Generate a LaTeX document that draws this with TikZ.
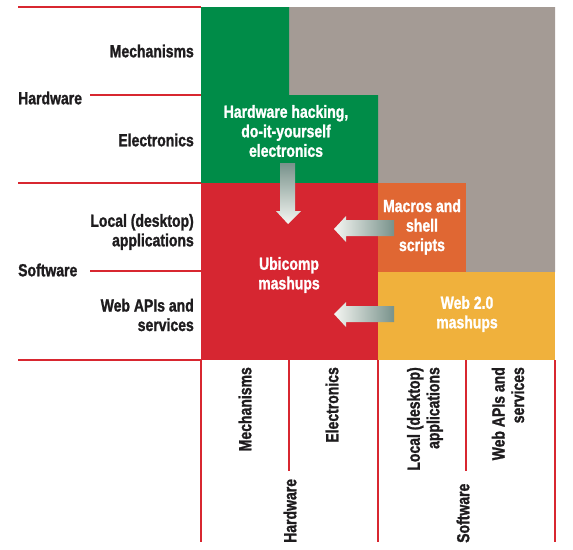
\documentclass[tikz,border=0pt]{standalone}
\usepackage{fontspec}
\newfontfamily\cf{Liberation Sans}[FakeStretch=0.8, BoldFeatures={FakeBold=1.3}]
\definecolor{cgreen}{RGB}{0,140,72}
\definecolor{cgray}{RGB}{164,155,149}
\definecolor{cred}{RGB}{214,38,49}
\definecolor{corange}{RGB}{224,103,51}
\definecolor{cyellow}{RGB}{240,177,60}
\definecolor{cline}{RGB}{216,39,48}
\definecolor{adark}{RGB}{120,146,139}
\definecolor{alight}{RGB}{245,246,242}
\definecolor{ctext}{RGB}{30,28,30}
\tikzset{
  axisline/.style={draw=cline, line width=1.6pt},
  lbl/.style={font=\cf\bfseries\fontsize{17.5}{19.5}\selectfont, text=ctext, inner sep=0pt},
  inlbl/.style={font=\cf\bfseries\fontsize{17.5}{19.5}\selectfont, text=white, inner sep=0pt, align=center},
  rlbl/.style={lbl, align=right, anchor=east},
  vlbl/.style={lbl, rotate=90, align=right, anchor=east},
  vlblb/.style={lbl, rotate=90, anchor=west},
}
\begin{document}
\begin{tikzpicture}[x=1pt,y=-1pt]
\useasboundingbox (0,0) rectangle (573,549);
% regions
\fill[cgray] (289,7) -- (555,7) -- (555,272) -- (466,272) -- (466,183) -- (378,183) -- (378,95) -- (289,95) -- cycle;
\fill[cgreen] (201,7) -- (289,7) -- (289,95) -- (378,95) -- (378,183) -- (201,183) -- cycle;
\fill[cred] (201,183) rectangle (378,360);
\fill[corange] (378,183) rectangle (466,272);
\fill[cyellow] (378,272) rectangle (555,360);
% left axis lines
\coordinate (l0) at (18,7);   \coordinate (r0) at (201,7);
\coordinate (l1) at (90,95);  \coordinate (r1) at (201,95);
\coordinate (l2) at (18,183); \coordinate (r2) at (201,183);
\coordinate (l3) at (90,271); \coordinate (r3) at (201,271);
\coordinate (l4) at (18,360); \coordinate (r4) at (201,360);
\draw[axisline] (l0) -- (r0);
\draw[axisline] (l1) -- (r1);
\draw[axisline] (l2) -- (r2);
\draw[axisline] (l3) -- (r3);
\draw[axisline] (l4) -- (r4);
% bottom axis lines
\coordinate (t0) at (201,360); \coordinate (b0) at (201,542);
\coordinate (t1) at (289,360); \coordinate (b1) at (289,471);
\coordinate (t2) at (378,360); \coordinate (b2) at (378,542);
\coordinate (t3) at (466,360); \coordinate (b3) at (466,471);
\coordinate (t4) at (555,360); \coordinate (b4) at (555,542);
\draw[axisline] (t0) -- (b0);
\draw[axisline] (t1) -- (b1);
\draw[axisline] (t2) -- (b2);
\draw[axisline] (t3) -- (b3);
\draw[axisline] (t4) -- (b4);
% left labels
\node[rlbl] (mech) at (194,51) {Mechanisms};
\node[rlbl] (elec) at (194,140) {Electronics};
\node[rlbl] (local) at (194,232) {Local (desktop)\\applications};
\node[rlbl] (web) at (194,315) {Web APIs and\\services};
\node[lbl, anchor=west] (hw) at (18,98) {Hardware};
\node[lbl, anchor=west] (sw) at (18,270) {Software};
% bottom labels
\node[vlbl] (bmech) at (245,367) {Mechanisms};
\node[vlbl] (belec) at (332,367) {Electronics};
\node[vlbl] (blocal) at (425,367) {Local (desktop)\\applications};
\node[vlbl] (bweb) at (508,367) {Web APIs and\\services};
\node[vlblb] (bhw) at (290,543) {Hardware};
\node[vlblb] (bsw) at (463,543) {Software};
% inner labels
\node[inlbl] (hack) at (286,131) {Hardware hacking,\\do-it-yourself\\electronics};
\node[inlbl] (ubi) at (289,275) {Ubicomp\\mashups};
\node[inlbl] (macro) at (422,227) {Macros and\\shell\\scripts};
\node[inlbl] (web2) at (467,314) {Web 2.0\\mashups};
% block arrows
\shade[top color=adark, bottom color=alight] (280,163) -- (295,163) -- (295,211) -- (301,211) -- (288,224) -- (276,211) -- (280,211) -- cycle;
\shade[left color=alight, right color=adark] (334,229) -- (346,216) -- (346,220) -- (394,220) -- (394,236) -- (346,236) -- (346,242) -- cycle;
\shade[left color=alight, right color=adark] (334,314) -- (346,302) -- (346,306) -- (394,306) -- (394,322) -- (346,322) -- (346,327) -- cycle;
\end{tikzpicture}
\end{document}
